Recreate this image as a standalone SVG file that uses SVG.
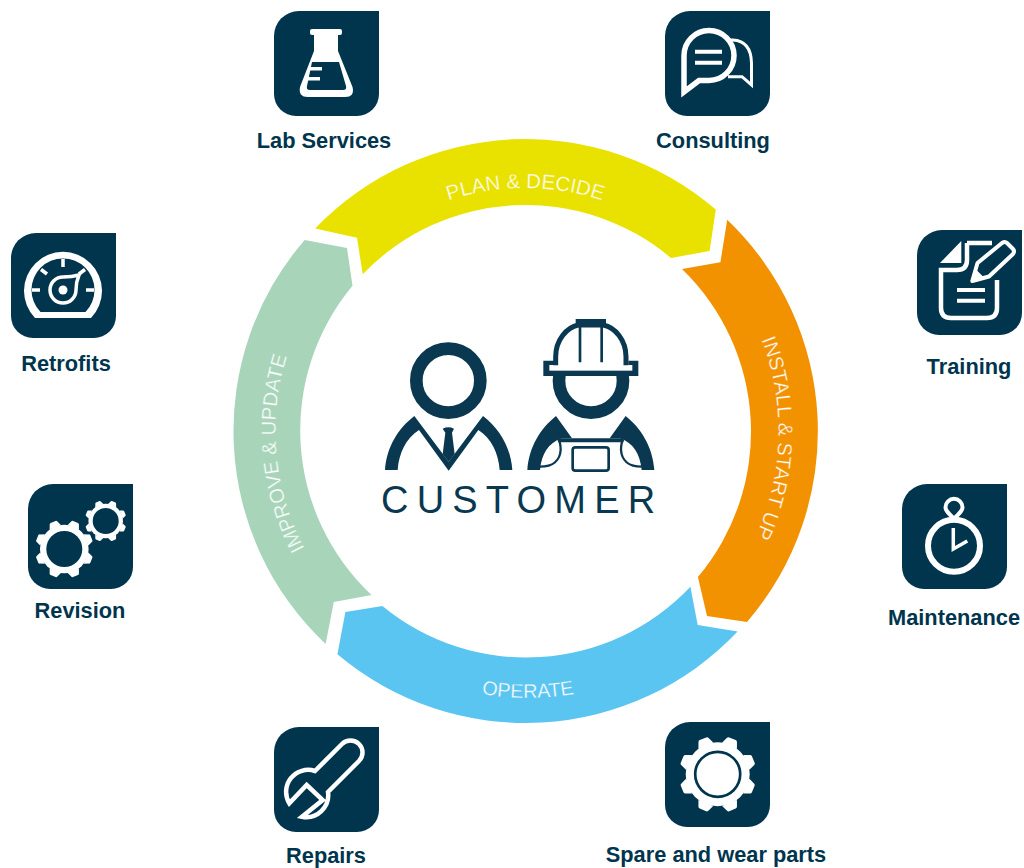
<svg xmlns="http://www.w3.org/2000/svg" width="1024" height="868" viewBox="0 0 1024 868">
<style>
.lbl{font:bold 21.800px "Liberation Sans",Arial,sans-serif;fill:#00354e;text-anchor:middle}
.seg{font:20.200px "Liberation Sans",Arial,sans-serif;fill:#fff;text-anchor:middle;stroke-width:.35}
.t{fill:#00354e}
.w{fill:#fff}
.o{fill:none;stroke:#fff;stroke-width:4.500}
.n{fill:#0a3850}
.ns{fill:none;stroke:#0a3850}
</style>
<defs>
<path id="tile" d="M25 0H105V83A22 22 0 0 1 83 105H22A22 22 0 0 1 0 83V25A25 25 0 0 1 25 0Z"/>
<path id="tooth" d="M-8-31L-5.500-37Q-5-38.500-3.500-38.500H3.500Q5-38.500 5.500-37L8-31Z"/>
<g id="gear" class="w">
<circle r="32"/>
<use href="#tooth" transform="rotate(22.500)"/><use href="#tooth" transform="rotate(67.500)"/>
<use href="#tooth" transform="rotate(112.500)"/><use href="#tooth" transform="rotate(157.500)"/>
<use href="#tooth" transform="rotate(202.500)"/><use href="#tooth" transform="rotate(247.500)"/>
<use href="#tooth" transform="rotate(292.500)"/><use href="#tooth" transform="rotate(337.500)"/>
</g>
<path id="p1" d="M339.400 274.800A243 243 0 0 1 711.600 274.800"/>
<path id="p2" d="M695.400 243.600A253 253 0 0 1 680.600 630.900"/>
<path id="p3" d="M323.500 602.600A267 267 0 0 0 732.500 602.600"/>
<path id="p4" d="M383.200 636.500A250 250 0 0 1 347.800 255.100"/>
</defs>

<g id="connectors">
<path id="plan-decide" fill="#e9e200" d="M315.100 228.500A292 292 0 0 1 715.800 209.600L709.600 251L671 258A226 226 0 0 0 362.700 274.200L357 237.700Z"/>
<path id="install-start-up" fill="#f39200" d="M727.200 219.800A292 292 0 0 1 747 622L707 616L697.900 577.100A226 226 0 0 0 682 269L720.400 262.300Z"/>
<path id="operate" fill="#5bc5f2" d="M737.600 631.600A292 292 0 0 1 337.400 654.300L345.400 612L382.400 605.900A226 226 0 0 0 690.400 586.700L697.700 625Z"/>
<path id="improve-update" fill="#a8d5ba" d="M325.600 643.900A292 292 0 0 1 304.700 239.900L347 248L352.500 285.700A226 226 0 0 0 371.500 595L333.800 602Z"/>
<text class="seg" stroke="#e9e200" style="font-size:20.500px"><textPath href="#p1" startOffset="50%">PLAN &amp; DECIDE</textPath></text>
<text class="seg" stroke="#f39200"><textPath href="#p2" startOffset="49.500%">INSTALL &amp; START UP</textPath></text>
<text class="seg" stroke="#5bc5f2" style="font-size:19.800px"><textPath href="#p3" startOffset="50%">OPERATE</textPath></text>
<text class="seg" stroke="#a8d5ba"><textPath href="#p4" startOffset="50%">IMPROVE &amp; UPDATE</textPath></text>
</g>

<g id="customer">
<g transform="translate(370 310) scale(.33333)">
<circle cx="235" cy="212" r="96" class="ns" stroke-width="38"/>
<path class="n" d="M45 480C50 410 85 355 133 318L236 455L339 318C387 355 422 410 427 480H389C385 430 365 385 325 360L236 482L147 360C107 385 87 430 83 480Z"/>
<path class="n" d="M218 356Q235 348 252 356L246 368L254 432L236 455L218 432L226 368Z"/>
<circle cx="663" cy="212" r="96" class="ns" stroke-width="38"/>
<path class="n" d="M520 152H552V165H775V152H805V198H520Z"/>
<rect x="538" y="165" width="249" height="17" fill="#fff"/>
<path d="M557 166V140C557 90 590 52 625 45H700C735 52 768 90 768 140V166" fill="#fff" stroke="#0a3850" stroke-width="15"/>
<rect x="617" y="27" width="91" height="18" class="n"/>
<path class="ns" stroke-width="8" d="M630 42V157M695 42V157"/>
<path class="n" d="M472 480C477 410 512 355 558 318L606 385H575C535 400 515 430 510 480Z"/>
<path class="n" d="M853 480C848 410 813 355 767 318L719 385H750C790 400 810 430 815 480Z"/>
<path class="ns" stroke-width="7" d="M510 470C550 470 570 450 572 420C572 405 570 395 565 388M815 470C775 470 755 450 753 420C753 405 755 395 760 388"/>
<path class="ns" stroke-width="12" d="M565 391H760"/>
<rect x="608" y="412" width="108" height="70" rx="8" fill="#fff" stroke="#0a3850" stroke-width="8"/>
</g>
<text x="381" y="513" style="font:38px 'Liberation Sans',Arial,sans-serif;letter-spacing:8.200px" fill="#0a3850">CUSTOMER</text>
</g>

<g id="lab-services">
<g transform="translate(274 11)">
<use href="#tile" class="t"/>
<rect x="36" y="18" width="32" height="6" rx="2" class="w"/>
<path class="w" d="M40 23V40L26 76Q24 86 34 86H71Q81 86 78.500 76L64 40V23Z"/>
<path class="t" d="M38 51H65L72 75Q73 79 69 79H36Q32 79 33 75Z"/>
<path class="w" d="M35 56H48V59.500H35ZM32 66H46V69.500H32Z"/>
</g>
<text x="324" y="148" class="lbl">Lab Services</text>
</g>

<g id="consulting">
<g transform="translate(665 11)">
<use href="#tile" class="t"/>
<path fill="none" stroke="#fff" stroke-width="3" d="M62 29H68Q86 30 86.500 52V74L77 65.700H63"/>
<path fill="#00354e" stroke="#fff" stroke-width="5.500" d="M44 19.500A25 25 0 0 1 44 69.500H34L19 81V44.500A25 25 0 0 1 44 19.500Z"/>
<path class="w" d="M30 38.700H57V42.700H30ZM30 49.700H57V53.700H30Z"/>
</g>
<text x="713" y="148" class="lbl">Consulting</text>
</g>

<g id="training">
<g transform="translate(917 230)">
<use href="#tile" class="t"/>
<path class="w" d="M23 33L44.300 11V33Z"/>
<path class="o" d="M50 13V30Q50 40 40 40H24V78Q24 88 34 88H70Q80 88 80 78V50M50 13H75"/>
<path class="w" d="M40 58H68V62H40ZM40 68.700H68V72.700H40Z"/>
<path fill="#00354e" stroke="#fff" stroke-width="4" stroke-linejoin="round" d="M55.300 51L60.500 33L85 13Q88 11 90 13L96 19Q98 21 96 24L72 46.500Z"/>
<path class="w" d="M55.300 51L58.500 39L67 47.500Z"/>
</g>
<text x="969" y="374" class="lbl">Training</text>
</g>

<g id="maintenance">
<g transform="translate(902 484)">
<use href="#tile" class="t"/>
<circle cx="52" cy="61.700" r="26" class="o" style="stroke-width:6"/>
<path class="o" style="stroke-width:4" d="M52 35C48 30 43.500 28 43.500 23.300A8.500 8.500 0 0 1 60.500 23.300C60.500 28 56 30 52 35Z"/>
<path class="o" style="stroke-width:3.500" d="M51.300 44V65L65.300 57"/>
</g>
<text x="954" y="625" class="lbl">Maintenance</text>
</g>

<g id="spare-and-wear-parts">
<g transform="translate(665 722)">
<use href="#tile" class="t"/>
<use href="#gear" transform="translate(52.700 52.300)"/>
<circle cx="52.700" cy="52.300" r="22.500" fill="none" stroke="#00354e" stroke-width="2.700"/>
</g>
<text x="716" y="862" class="lbl">Spare and wear parts</text>
</g>

<g id="repairs">
<g transform="translate(274 727)">
<use href="#tile" class="t"/>
<path class="o" d="M15.300 76.300A22 22 0 0 1 41 44L68 17A12 12 0 0 1 85 34L54 65A22 22 0 0 1 28 89.700L48.700 73L32.700 58Z"/>
</g>
<text x="326" y="863" class="lbl">Repairs</text>
</g>

<g id="revision">
<g transform="translate(28 484)">
<use href="#tile" class="t"/>
<use href="#gear" transform="translate(36.300 65) scale(.76)"/>
<circle cx="36.300" cy="65" r="18" class="t"/>
<use href="#gear" transform="translate(77.700 37) scale(.54)"/>
<circle cx="77.700" cy="37" r="13" class="t"/>
</g>
<text x="80" y="618" class="lbl">Revision</text>
</g>

<g id="retrofits">
<g transform="translate(11 233)">
<use href="#tile" class="t"/>
<path class="w" d="M24 85A39 39 0 1 1 80 85Z"/>
<path class="t" d="M29.500 79A31.500 31.500 0 1 1 74.500 79Z"/>
<path fill="none" stroke="#fff" stroke-width="3.500" d="M52 26V34M21 57H29M75 57H83M30 36.500L36 41M68 41L74 36.500"/>
<path class="o" style="stroke-width:3.500" d="M52 44Q61 44 68 42Q65 49 65 57A13 13 0 1 1 52 44Z"/>
<circle cx="52" cy="57" r="4.500" class="w"/>
</g>
<text x="66" y="371" class="lbl">Retrofits</text>
</g>
</svg>
